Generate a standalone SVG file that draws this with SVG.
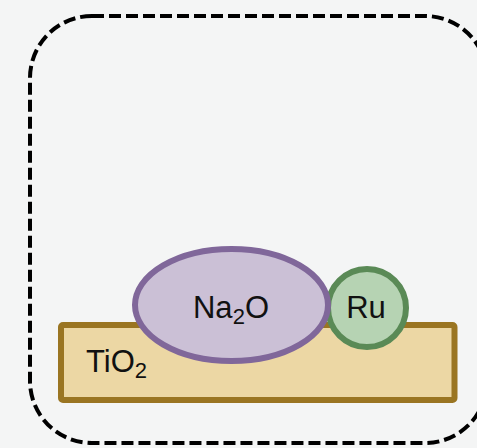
<svg xmlns="http://www.w3.org/2000/svg" width="477" height="448" viewBox="0 0 477 448">
<style>
.lbl{font-family:"Liberation Sans",Arial,sans-serif;font-size:31px;fill:#111}
.sub{font-size:22px}
</style>
<rect x="0" y="0" width="477" height="448" fill="#f4f5f5"/>
<g id="frame">
<rect x="30" y="16" width="457" height="427" rx="62" ry="62" fill="none" stroke="#000" stroke-width="4" stroke-dasharray="12 5"/>
</g>
<g id="connectors"></g>
<g id="tio2">
<rect x="61" y="325" width="393.5" height="75" rx="2" fill="#ecd7a4" stroke="#9a7522" stroke-width="6"/>
<text class="lbl" x="86" y="372">TiO<tspan class="sub" dy="6">2</tspan></text>
</g>
<g id="ru">
<circle cx="367" cy="308" r="39" fill="#b6d3b3" stroke="#5a8a56" stroke-width="6"/>
<text class="lbl" x="366" y="318" text-anchor="middle">Ru</text>
</g>
<g id="na2o">
<ellipse cx="231.5" cy="305" rx="96.5" ry="56" fill="#cbc0d6" stroke="#80679a" stroke-width="6"/>
<text class="lbl" x="231" y="318" text-anchor="middle">Na<tspan class="sub" dy="6">2</tspan><tspan dy="-6">O</tspan></text>
</g>
</svg>
